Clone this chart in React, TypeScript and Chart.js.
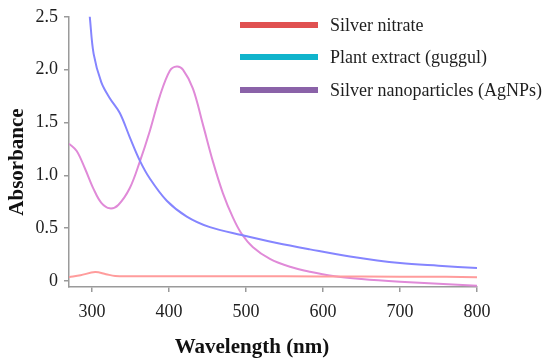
import React, { useEffect, useRef } from "react";
import { Chart, registerables } from "chart.js";

Chart.register(...registerables);

const seriesNames = ["Silver nitrate", "Plant extract (guggul)", "Silver nanoparticles (AgNPs)"];
const legendColors = ["#e05050", "#10b4cc", "#8a62a8"];
const lineColors = ["#ff9c9c", "#8585ff", "#e08ad8"];

const silverNitrateX = [270, 285, 304, 318, 330, 350, 400, 500, 600, 700, 760, 800];
const silverNitrateY = [0.037, 0.055, 0.085, 0.065, 0.048, 0.045, 0.045, 0.045, 0.044, 0.042, 0.04, 0.036];

const plantExtractX = [292, 297, 302, 312, 323, 336, 349, 362, 375, 397, 423, 453, 494, 540, 583, 635, 700, 750, 800];
const plantExtractY = [2.85, 2.5, 2.15, 1.88, 1.73, 1.59, 1.36, 1.14, 0.97, 0.76, 0.61, 0.51, 0.435, 0.36, 0.3, 0.233, 0.17, 0.145, 0.124];

const agnpX = [270, 280, 291, 302, 312, 323, 334, 349, 362, 375, 388, 401, 410, 418, 431, 444, 457, 470, 483, 494, 509, 531, 557, 583, 613, 650, 700, 750, 800];
const agnpY = [1.3, 1.23, 1.06, 0.87, 0.74, 0.688, 0.72, 0.88, 1.13, 1.42, 1.75, 1.99, 2.03, 2.0, 1.82, 1.48, 1.13, 0.83, 0.6, 0.45, 0.32, 0.21, 0.135, 0.088, 0.048, 0.02, -0.006, -0.026, -0.044];

const xTicks = [300, 400, 500, 600, 700, 800];
const yTicks = [0, 0.5, 1.0, 1.5, 2.0, 2.5];

const xTitle = "Wavelength (nm)";
const yTitle = "Absorbance";

const FONT = "'Liberation Serif', 'Times New Roman', serif";

const toPts = (xs: number[], ys: number[]) => xs.map((x, i) => ({ x, y: ys[i] }));

const overlayPlugin = {
  id: "overlay",
  afterDraw(chart: any) {
    const ctx = chart.ctx;
    ctx.save();
    ctx.font = `18px ${FONT}`;
    ctx.textBaseline = "middle";
    ctx.textAlign = "left";
    const rows = [25, 57, 90];
    seriesNames.forEach((name, i) => {
      ctx.fillStyle = legendColors[i];
      ctx.fillRect(240, rows[i] - 3, 78, 6);
      ctx.fillStyle = "#1e1e1e";
      ctx.fillText(name, 330, rows[i] + 1);
    });
    ctx.font = `bold 21px ${FONT}`;
    ctx.fillStyle = "#111";
    ctx.textAlign = "center";
    ctx.textBaseline = "middle";
    ctx.fillText(xTitle, 252, 348);
    ctx.translate(18, 162);
    ctx.rotate(-Math.PI / 2);
    ctx.fillText(yTitle, 0, 0);
    ctx.restore();
  },
};

export default function App() {
  const ref = useRef<HTMLCanvasElement | null>(null);
  useEffect(() => {
    document.body.style.margin = "0";
    const canvas = ref.current!;
    const common = { borderWidth: 2, pointRadius: 0, tension: 0.35 };
    const chart = new Chart(canvas, {
      type: "line",
      data: {
        datasets: [
          { label: seriesNames[0], data: toPts(silverNitrateX, silverNitrateY), borderColor: lineColors[0], ...common },
          { label: seriesNames[1], data: toPts(plantExtractX, plantExtractY), borderColor: lineColors[1], ...common },
          { label: seriesNames[2], data: toPts(agnpX, agnpY), borderColor: lineColors[2], ...common },
        ],
      },
      options: {
        animation: false,
        responsive: false,
        maintainAspectRatio: false,
        layout: { padding: { left: 0, right: 73, top: 13, bottom: 0 } },
        plugins: { legend: { display: false }, tooltip: { enabled: false } },
        scales: {
          x: {
            type: "linear",
            min: 270,
            max: 800,
            afterBuildTicks: (s: any) => { s.ticks = xTicks.map((v) => ({ value: v })); },
            afterFit: (s: any) => { s.height = 77; },
            grid: { drawOnChartArea: false, drawTicks: true, tickLength: 5, color: "#9a9a9a", lineWidth: 1.5 },
            border: { color: "#9a9a9a", width: 1.5 },
            ticks: { color: "#1e1e1e", font: { family: FONT, size: 18 }, padding: 9, maxRotation: 0, autoSkip: false },
          },
          y: {
            type: "linear",
            min: -0.056,
            max: 2.5,
            afterBuildTicks: (s: any) => { s.ticks = yTicks.map((v) => ({ value: v })); },
            afterFit: (s: any) => { s.width = 69; },
            grid: { drawOnChartArea: false, drawTicks: true, tickLength: 5, color: "#9a9a9a", lineWidth: 1.5 },
            border: { color: "#9a9a9a", width: 1.5 },
            ticks: {
              color: "#1e1e1e",
              font: { family: FONT, size: 18 },
              padding: 6,
              autoSkip: false,
              callback: (v: any) => (v === 0 ? "0" : Number(v).toFixed(1)),
            },
          },
        },
      },
      plugins: [overlayPlugin],
    } as any);
    return () => chart.destroy();
  }, []);
  return (
    <div style={{ position: "absolute", left: 0, top: 0, width: 550, height: 364, background: "#fff" }}>
      <canvas ref={ref} width={550} height={364} style={{ width: 550, height: 364 }} />
    </div>
  );
}
